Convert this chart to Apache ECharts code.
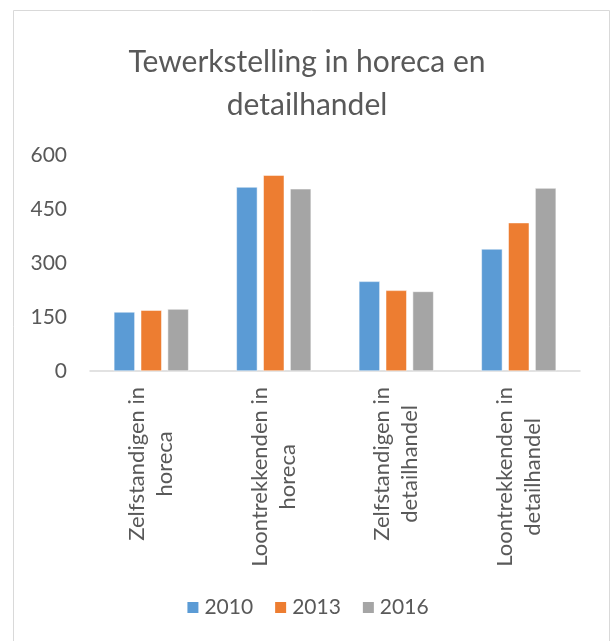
<!DOCTYPE html>
<html>
<head>
<meta charset="utf-8">
<script src="https://cdn.jsdelivr.net/npm/echarts@6/dist/echarts.min.js"></script>
<style>
  html, body { margin: 0; padding: 0; background: #fff; }
  #chart { width: 614px; height: 641px; }
</style>
</head>
<body>
<div id="chart"></div>
<script>
var myChart = echarts.init(document.getElementById('chart'));

// data
var categories = [
    'Zelfstandigen in\nhoreca',
    'Loontrekkenden in\nhoreca',
    'Zelfstandigen in\ndetailhandel',
    'Loontrekkenden in\ndetailhandel'
];
var years = ['2010', '2013', '2016'];
var values2010 = [164, 511, 249, 339];
var values2013 = [169, 544, 224, 412];
var values2016 = [172, 506, 221, 508];
var yTicks = [0, 150, 300, 450, 600];

var colors = ['#5b9bd5', '#ed7d31', '#a5a5a5'];
var textColor = '#595959';
var font = 'Lato';

function barSeries(name, data) {
    return {
        name: name,
        type: 'bar',
        data: data,
        barWidth: 21,
        barGap: '28%',
        itemStyle: { borderColor: '#ffffff', borderWidth: 0.5 }
    };
}

var option = {
    backgroundColor: '#ffffff',
    color: colors,
    animation: false,
    title: {
        text: 'Tewerkstelling in horeca en\ndetailhandel',
        left: 'center',
        top: 36,
        textStyle: {
            fontFamily: font,
            fontSize: 30,
            fontWeight: 'normal',
            color: textColor,
            lineHeight: 43
        }
    },
    graphic: [{
        type: 'rect',
        shape: { x: 13.5, y: 10.5, width: 596, height: 640 },
        style: { fill: 'none', stroke: '#d9d9d9', lineWidth: 1 },
        silent: true
    }],
    legend: {
        data: years,
        bottom: 18,
        left: 'center',
        icon: 'rect',
        itemWidth: 13,
        itemHeight: 13,
        itemGap: 20,
        textStyle: { fontFamily: font, fontSize: 21, color: textColor }
    },
    grid: {
        left: 90,
        right: 34,
        top: 155,
        bottom: 270
    },
    xAxis: {
        type: 'category',
        data: categories,
        axisLine: { lineStyle: { color: '#d9d9d9', width: 1.5 } },
        axisTick: { show: false },
        axisLabel: {
            rotate: 90,
            margin: 16,
            interval: 0,
            formatter: function (v) {
                return v.split('\n').map(function (l) { return '{c|' + l + '}'; }).join('\n');
            },
            rich: {
                c: {
                    align: 'center',
                    fontFamily: font,
                    fontSize: 22,
                    color: textColor,
                    lineHeight: 28
                }
            }
        }
    },
    yAxis: {
        type: 'value',
        min: yTicks[0],
        max: yTicks[yTicks.length - 1],
        interval: 150,
        splitLine: { show: false },
        axisLine: { show: false },
        axisTick: { show: false },
        axisLabel: {
            margin: 23,
            fontFamily: font,
            fontSize: 21,
            color: textColor
        }
    },
    series: [
        barSeries(years[0], values2010),
        barSeries(years[1], values2013),
        barSeries(years[2], values2016)
    ]
};

myChart.setOption(option);
</script>
</body>
</html>
